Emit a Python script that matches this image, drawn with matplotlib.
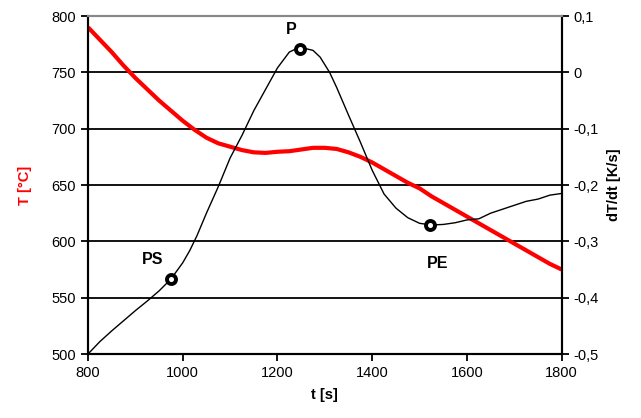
import matplotlib
matplotlib.use("Agg")
import matplotlib.pyplot as plt

plt.rcParams['font.family'] = ['Liberation Sans', 'DejaVu Sans']

# Temperatur T(t)
t_temp = [800, 825, 850, 875, 900, 925, 950, 975, 1000, 1025, 1050, 1075, 1100,
          1125, 1150, 1175, 1200, 1225, 1250, 1275, 1300, 1325, 1350, 1375, 1400,
          1425, 1450, 1475, 1500, 1525, 1550, 1575, 1600, 1625, 1650, 1675, 1700,
          1725, 1750, 1775, 1800]
temp = [790, 779, 768, 756, 745, 735, 725, 716, 707, 699, 692, 687, 684,
        681, 679, 678.5, 679.5, 680, 681.5, 683, 683, 682, 679, 675, 670,
        664, 658, 652, 647, 640, 634, 628, 622, 616, 610, 604, 598,
        592, 586, 580, 575]

# Abkuehlrate dT/dt
t_rate = [800, 825, 850, 875, 900, 925, 950, 975, 1000, 1015, 1030, 1050, 1075,
          1100, 1125, 1150, 1175, 1200, 1225, 1240, 1260, 1275, 1290, 1310, 1325,
          1350, 1375, 1400, 1425, 1450, 1475, 1500, 1525, 1550, 1575, 1600, 1625,
          1650, 1675, 1700, 1725, 1750, 1775, 1800]
rate = [-0.500, -0.478, -0.459, -0.441, -0.423, -0.406, -0.388, -0.367, -0.338,
        -0.316, -0.290, -0.250, -0.203, -0.152, -0.112, -0.068, -0.030, 0.008,
        0.036, 0.042, 0.042, 0.039, 0.027, 0.000, -0.027, -0.076, -0.124,
        -0.174, -0.216, -0.241, -0.258, -0.268, -0.271, -0.270, -0.267,
        -0.262, -0.260, -0.250, -0.243, -0.236, -0.229, -0.225, -0.218, -0.215]

# Kennpunkte
punkt_namen = ['PS', 'P', 'PE']
punkt_t = [975, 1248, 1522]
punkt_rate = [-0.367, 0.042, -0.271]

fig = plt.figure(figsize=(6.41, 4.18), dpi=100)
ax = fig.add_axes([0.1373, 0.1531, 0.739, 0.8086])
ax2 = ax.twinx()

ax.set_xlim(800, 1800)
ax.set_ylim(500, 800)
ax2.set_ylim(-0.5, 0.1)
ax.set_xticks(range(800, 1801, 200))
ax.set_yticks(range(500, 801, 50))
ax2.set_yticks([-0.5, -0.4, -0.3, -0.2, -0.1, 0, 0.1])
ax2.set_yticklabels(['-0,5', '-0,4', '-0,3', '-0,2', '-0,1', '0', '0,1'])

ax.grid(axis='y', color='black', linewidth=1.3)
ax.set_axisbelow(True)

for a in (ax, ax2):
    for s in ('left', 'right', 'bottom'):
        a.spines[s].set_color('black')
        a.spines[s].set_linewidth(1.5)
    a.spines['top'].set_color('#888888')
    a.spines['top'].set_linewidth(1.5)
    a.tick_params(labelsize=10.5, width=1.3, length=5, direction='out')

ax.plot(t_temp, temp, color='red', linewidth=3.0, solid_capstyle='butt', zorder=3)
ax2.plot(t_rate, rate, color='black', linewidth=1.0, zorder=4)
ax2.plot(punkt_t, punkt_rate, linestyle='none', marker='o', markersize=6.5,
         markerfacecolor='white', markeredgecolor='black', markeredgewidth=2.8,
         zorder=5)

versatz = {'PS': (-18, 20), 'P': (-9, 19), 'PE': (8, -38)}
for name, tx, ry in zip(punkt_namen, punkt_t, punkt_rate):
    dx, dy = versatz[name]
    ax2.annotate(name, (tx, ry), xytext=(dx, dy), textcoords='offset pixels',
                 ha='center', va='center', fontsize=11.5, fontweight='bold')

ax.set_xlabel('t [s]', fontsize=10.5, fontweight='bold', labelpad=6)
ax.set_ylabel('T [°C]', fontsize=10.5, fontweight='bold', color='red', labelpad=14)
ax2.set_ylabel('dT/dt [K/s]', fontsize=10.5, fontweight='bold', labelpad=6)

fig.savefig('out.png', dpi=100)
